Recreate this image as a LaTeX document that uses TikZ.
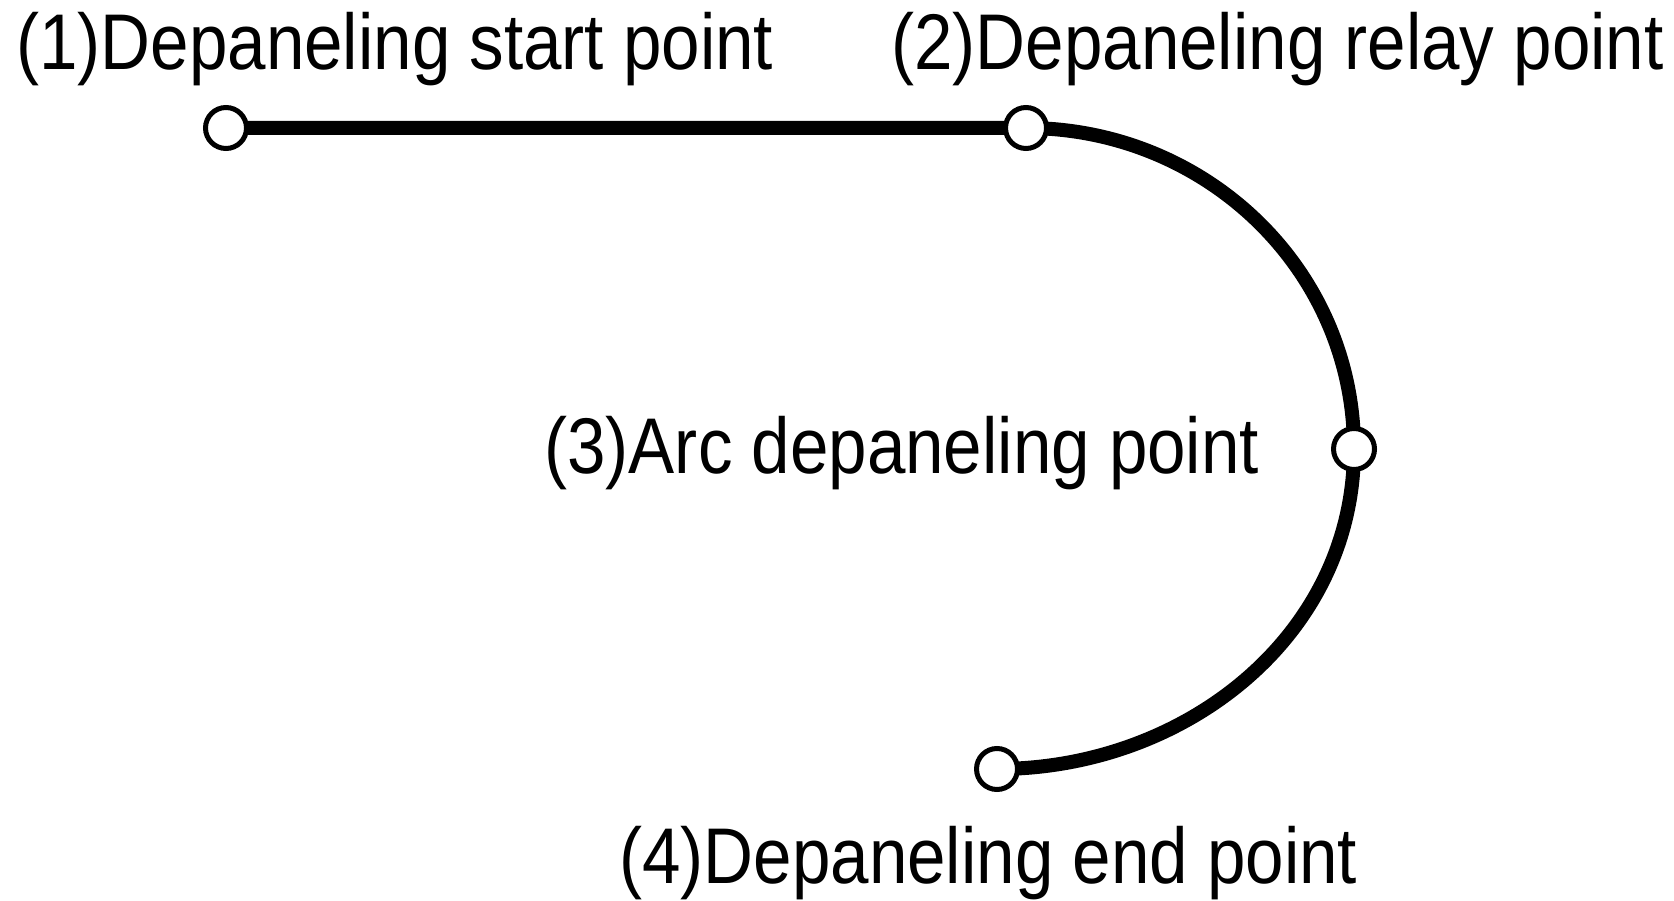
\documentclass[tikz,border=0pt]{standalone}
\usepackage{fontspec}
\setmainfont{Liberation Sans}[FakeStretch=0.875]
\usetikzlibrary{backgrounds}
\tikzstyle{point}=[draw, circle, fill=white, line width=2.5pt, inner sep=0pt, minimum size=20.5pt]
\tikzstyle{route}=[line width=7pt]
\tikzstyle{caption}=[anchor=base west, inner sep=0pt, font=\fontsize{39.5}{46}\selectfont]

\begin{document}
\begin{tikzpicture}[x=0.5pt, y=0.5pt]
        \useasboundingbox (0, 0) rectangle (1674, 900);
        \node[point] (P1) at (226, 772) {};
        \node[point] (P2) at (1026, 772) {};
        \node[point] (P3) at (1354, 451) {};
        \node[point] (P4) at (997, 131) {};
        \node[caption] (L1) at (16, 830)  {(1)Depaneling start point};
        \node[caption] (L2) at (891, 830) {(2)Depaneling relay point};
        \node[caption] (L3) at (544, 426) {(3)Arc depaneling point};
        \node[caption] (L4) at (619, 17)  {(4)Depaneling end point};
        \begin{pgfonlayer}{background}
        \draw[route] (P1.center) -- (P2.center) to[out=0, in=90] (P3.center) to[out=-90, in=0] (P4.center);
        \end{pgfonlayer}
    \end{tikzpicture}
\end{document}
